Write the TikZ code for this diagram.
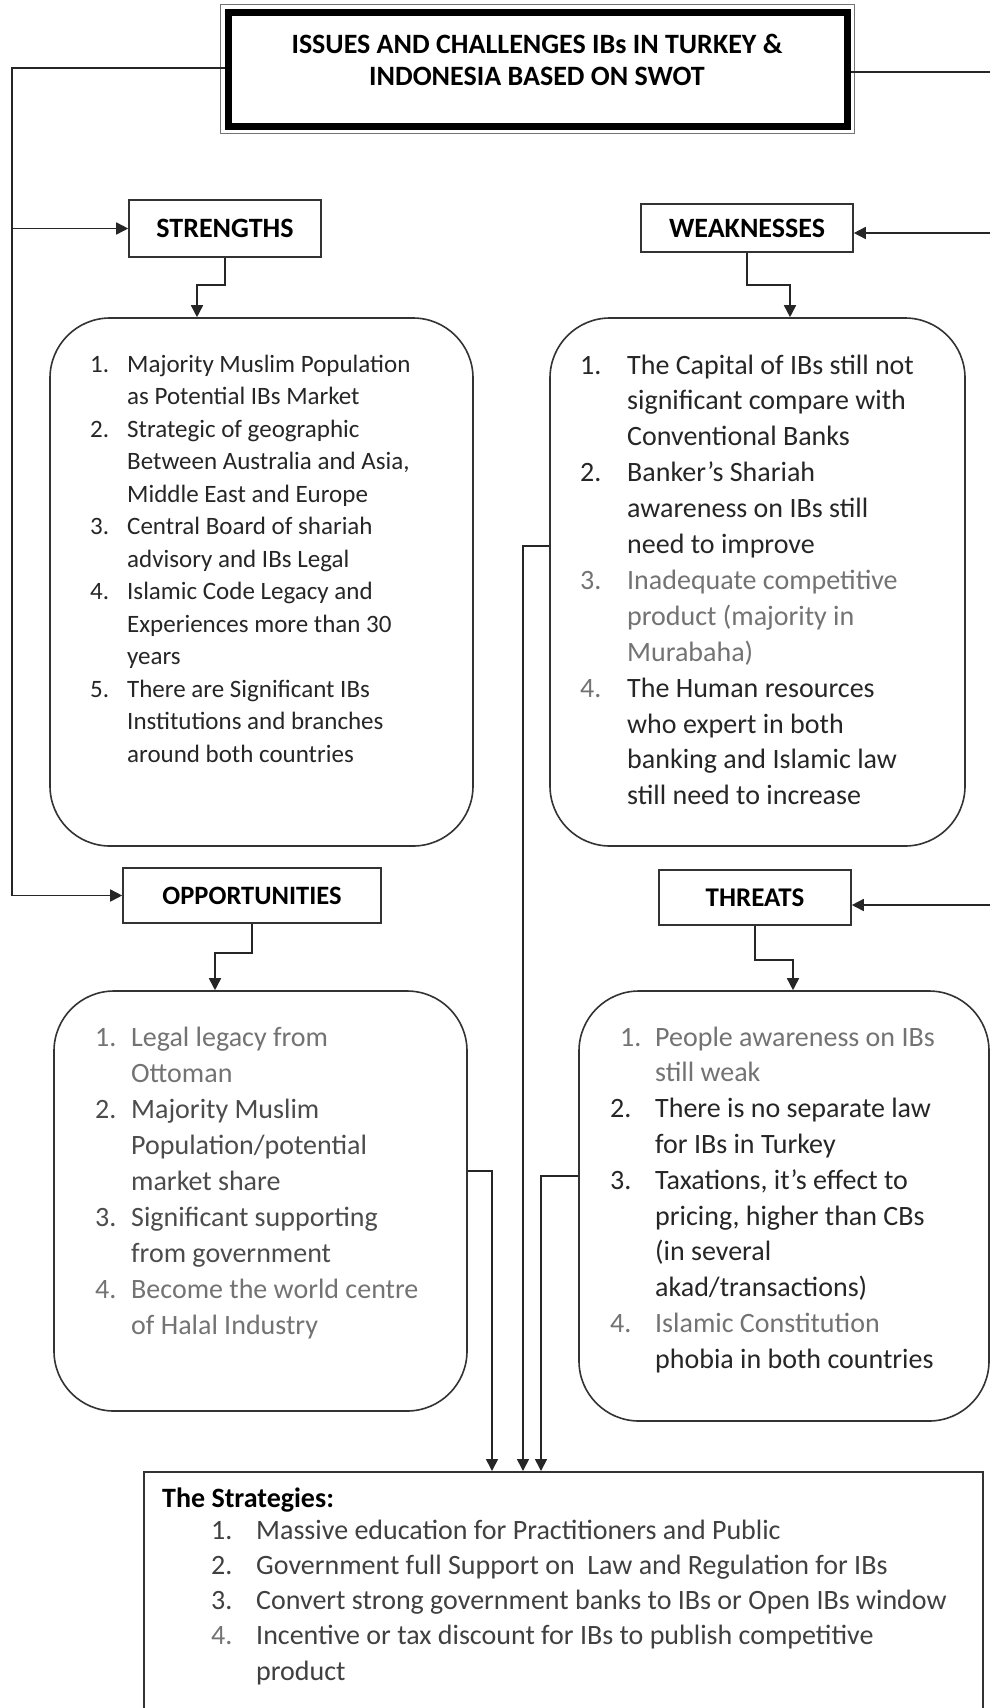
\documentclass[tikz,border=0pt]{standalone}
\usepackage{fontspec}
\setmainfont{Carlito}
\usetikzlibrary{arrows.meta}
\newcommand\nb[2]{\makebox[#1pt][l]{#2}}
\newcommand\gr{\color{black!55}}
\begin{document}
\begin{tikzpicture}[x=1pt,y=-1pt,
  line/.style={line width=1.6pt, draw=black!85},
  arr/.style={line, -{Triangle[width=12pt,length=12pt]}},
  lbl/.style={draw=black!80, line width=1.6pt, inner sep=0pt, font=\bfseries\fontsize{28pt}{32pt}\selectfont},
  rbox/.style={draw=black!80, line width=1.6pt, rounded corners=60pt, inner sep=0pt},
  txt/.style={anchor=base west, inner sep=0pt, text=black!85}]
\fill[white] (0,0) rectangle (990,1708);
\useasboundingbox (0,0) rectangle (990,1708);

% title
\node[draw=black, line width=7pt, minimum width=619pt, minimum height=114pt, inner sep=0pt] (title) at (537.5,69) {};
\draw[black!55, line width=1.2pt] ([shift={(-4,-4)}]title.north west) rectangle ([shift={(4,4)}]title.south east);
\node[anchor=base, inner sep=0pt, font=\bfseries\fontsize{28pt}{32pt}\selectfont] (ttltext) at (537,53)
  {\begin{tabular}[t]{@{}c@{}}ISSUES AND CHALLENGES IBs IN TURKEY \&\\ INDONESIA BASED ON SWOT\end{tabular}};

% labels
\node[lbl, minimum width=192pt, minimum height=57pt] (S) at (225,228.5) {STRENGTHS};
\node[lbl, minimum width=212pt, minimum height=48pt] (W) at (747,228) {WEAKNESSES};
\node[lbl, minimum width=258pt, minimum height=55pt, font=\bfseries\fontsize{26.5pt}{32pt}\selectfont] (O) at (252,895.5) {OPPORTUNITIES};
\node[lbl, minimum width=192pt, minimum height=55pt, font=\bfseries\fontsize{27pt}{32pt}\selectfont] (T) at (755,897.5) {THREATS};

% rounded boxes
\node[rbox, minimum width=423pt, minimum height=528pt] (Sbox) at (261.5,582) {};
\node[rbox, minimum width=415pt, minimum height=528pt] (Wbox) at (757.5,582) {};
\node[rbox, minimum width=413pt, minimum height=420pt] (Obox) at (260.5,1201) {};
\node[rbox, minimum width=410pt, minimum height=430pt] (Tbox) at (784,1206) {};

% strategies box
\node[draw=black!80, line width=1.6pt, minimum width=839pt, minimum height=260pt, inner sep=0pt, anchor=north west] (Str) at (143,1471) {};

% texts
\node[txt, font=\fontsize{25pt}{32.5pt}\selectfont] (Stxt) at (90,372) {\begin{tabular}[t]{@{}l@{}}
\nb{37}{1.}Majority Muslim Population\\
\nb{37}{}as Potential IBs Market\\
\nb{37}{2.}Strategic of geographic\\
\nb{37}{}Between Australia and Asia,\\
\nb{37}{}Middle East and Europe\\
\nb{37}{3.}Central Board of shariah\\
\nb{37}{}advisory and IBs Legal\\
\nb{37}{4.}Islamic Code Legacy and\\
\nb{37}{}Experiences more than 30\\
\nb{37}{}years\\
\nb{37}{5.}There are Significant IBs\\
\nb{37}{}Institutions and branches\\
\nb{37}{}around both countries
\end{tabular}};

\node[txt, font=\fontsize{28pt}{35.9pt}\selectfont] (Wtxt) at (580,374) {\begin{tabular}[t]{@{}l@{}}
\nb{47}{1.}The Capital of IBs still not\\
\nb{47}{}significant compare with\\
\nb{47}{}Conventional Banks\\
\nb{47}{2.}Banker’s Shariah\\
\nb{47}{}awareness on IBs still\\
\nb{47}{}need to improve\\
\gr\nb{47}{3.}Inadequate competitive\\
\gr\nb{47}{}product (majority in\\
\gr\nb{47}{}Murabaha)\\
\gr\nb{47}{4.}\color{black!85}The Human resources\\
\nb{47}{}who expert in both\\
\nb{47}{}banking and Islamic law\\
\nb{47}{}still need to increase
\end{tabular}};

\node[txt, font=\fontsize{28pt}{36pt}\selectfont, text=black!70] (Otxt) at (95,1046) {\begin{tabular}[t]{@{}l@{}}
\gr\nb{36}{1.}Legal legacy from\\
\gr\nb{36}{}Ottoman\\
\nb{36}{2.}Majority Muslim\\
\nb{36}{}Population/potential\\
\nb{36}{}market share\\
\nb{36}{3.}Significant supporting\\
\nb{36}{}from government\\
\gr\nb{36}{4.}Become the world centre\\
\gr\nb{36}{}of Halal Industry
\end{tabular}};

\node[txt, font=\fontsize{28pt}{35.8pt}\selectfont] (Ttxt) at (610,1046) {\begin{tabular}[t]{@{}l@{}}
\gr\nb{45}{\hspace*{10pt}1.}People awareness on IBs\\
\gr\nb{45}{}still weak\\
\nb{45}{2.}There is no separate law\\
\nb{45}{}for IBs in Turkey\\
\nb{45}{3.}Taxations, it’s effect to\\
\nb{45}{}pricing, higher than CBs\\
\nb{45}{}(in several\\
\nb{45}{}akad/transactions)\\
\gr\nb{45}{4.}Islamic Constitution\\
\nb{45}{}phobia in both countries
\end{tabular}};

\node[txt, text=black, font=\bfseries\fontsize{28pt}{35pt}\selectfont] (Strtitle) at (162,1507) {The Strategies:};
\node[txt, font=\fontsize{28pt}{35.25pt}\selectfont, text=black!75] (Strtxt) at (211,1539) {\begin{tabular}[t]{@{}l@{}}
\nb{45}{1.}Massive education for Practitioners and Public\\
\nb{45}{2.}Government full Support on \ Law and Regulation for IBs\\
\nb{45}{3.}Convert strong government banks to IBs or Open IBs window\\
\gr\nb{45}{4.}\color{black!75}Incentive or tax discount for IBs to publish competitive\\
\nb{45}{}product
\end{tabular}};

% connectors
\coordinate (lc) at (12,68);
\coordinate (rc) at (997,72);
\draw[arr] (title.west |- lc) -- (lc) |- (O.west);
\draw[arr] (lc |- S.west) -- (S.west);
\draw[arr] (title.east |- rc) -- (rc) |- (T.east |- 0,905);
\draw[arr] (rc |- 0,233) -- (W.east |- 0,233);

\draw[arr] (S.south) |- (197,285) -- (Sbox.north -| 197,0);
\draw[arr] (W.south) |- (790,285) -- (Wbox.north -| 790,0);
\draw[arr] (O.south) |- (215,953) -- (Obox.north -| 215,0);
\draw[arr] (T.south) |- (793,960) -- (Tbox.north -| 793,0);

\draw[arr] (Obox.east |- 0,1171) -| (Str.north -| 492,0);
\draw[arr] (Wbox.west |- 0,546) -| (Str.north -| 523,0);
\draw[arr] (Tbox.west |- 0,1176) -| (Str.north -| 541,0);
\end{tikzpicture}
\end{document}
